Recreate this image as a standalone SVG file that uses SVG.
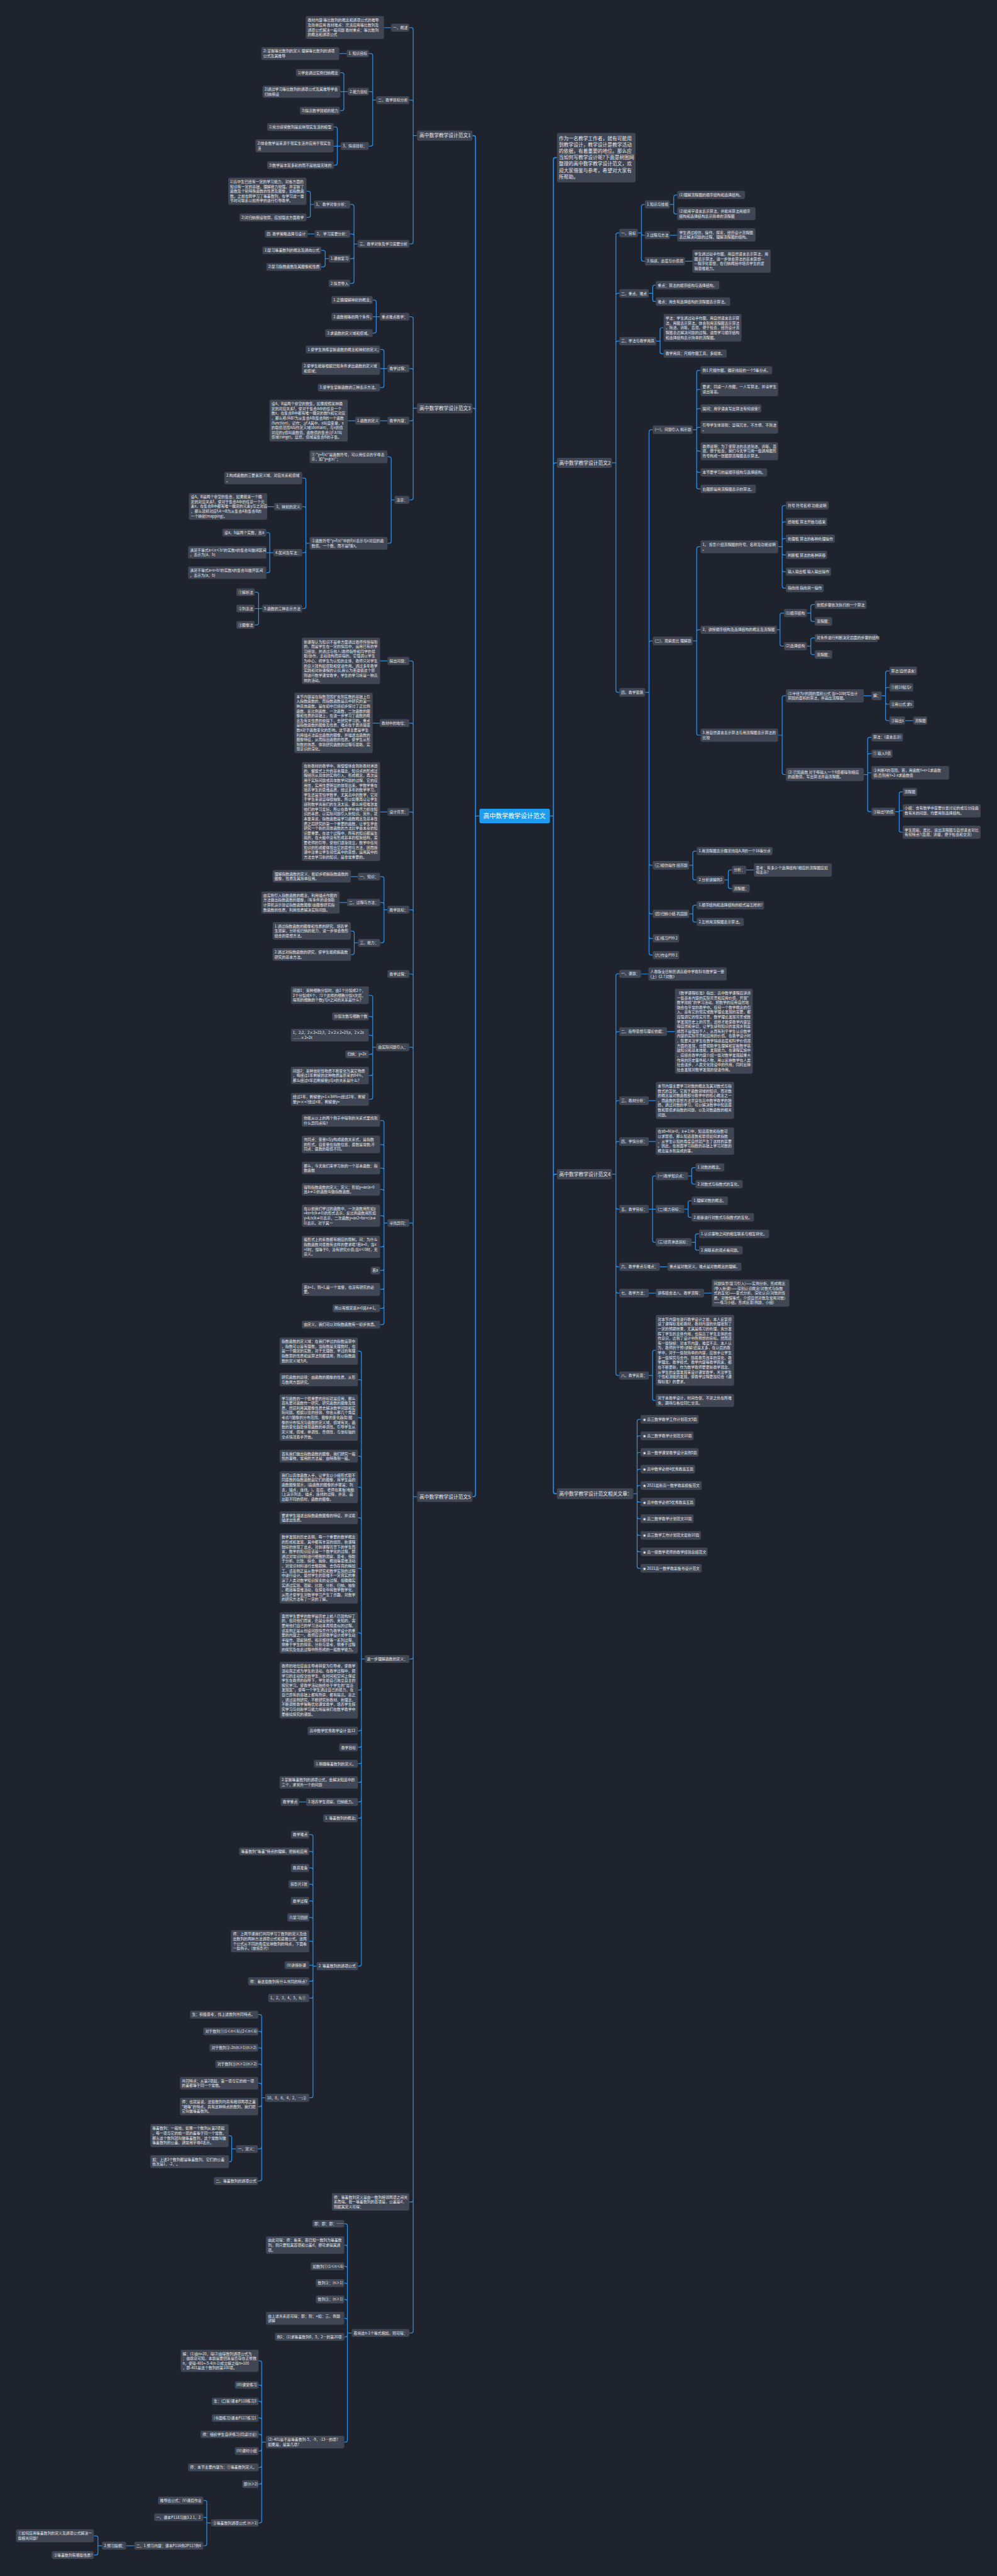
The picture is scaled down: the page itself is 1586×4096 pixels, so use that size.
<svg xmlns="http://www.w3.org/2000/svg" width="1586" height="4096" viewBox="0 0 1586 4096">
<style>
.nd rect{fill:#404654;rx:4px}
.nd .cn rect{fill:#1d9cf0}
text{font-family:"Noto Sans CJK SC","Noto Sans",sans-serif;font-size:9.5px;fill:#e6e8ec}
.L{font-size:12.5px}
.C{font-size:16px;fill:#ffffff}
.k path{fill:none;stroke:#2b8fe5;stroke-width:2}
.k .tr{stroke-width:2.6}
</style>
<rect width="1586" height="4096" style="fill:#1f232d"/>
<g transform="scale(0.6195)">
<g id="connectors" class="k">
<path class="tr" d="M1231 2094.5H1221M1221 2094.5V353Q1221 348 1216 348H1213M1221 2094.5V1053Q1221 1048 1216 1048H1213M1221 2094.5V3836.5Q1221 3841.5 1216 3841.5H1213"/>
<path class="tr" d="M1412 2094.5H1421M1421 2094.5V409.5Q1421 404.5 1426 404.5H1430M1421 2094.5V1193Q1421 1188 1426 1188H1430M1421 2094.5V3019Q1421 3014 1426 3014H1430M1421 2094.5V3829Q1421 3834 1426 3834H1430"/>
<path d="M1071 348H1061M1061 348V76Q1061 71 1056 71H1051M1061 348V262Q1061 257 1056 257H1051M1061 348V621Q1061 626 1056 626H1051"/>
<path d="M1004 71H986"/>
<path d="M966 257H957M957 257V142.5Q957 137.5 952 137.5H947M957 257V240Q957 235 952 235H947M957 257V370Q957 375 952 375H947"/>
<path d="M890 137.5H871"/>
<path d="M893 235H874M883 235V191.5Q883 186.5 878 186.5H873M883 235V279Q883 284 878 284H873"/>
<path d="M875 375H857M866 375V331Q866 326 861 326H857M866 375V419Q866 424 861 424H857"/>
<path d="M918 626H909M909 626V530Q909 525 904 525H899M909 626V605.5Q909 600.5 904 600.5H899M909 626V659Q909 664 904 664H899M909 626V722.5Q909 727.5 904 727.5H899"/>
<path d="M806 525H797M797 525V496Q797 491 792 491H787M797 525V553Q797 558 792 558H787"/>
<path d="M808 600.5H790"/>
<path d="M844 664H835M835 664V647.5Q835 642.5 830 642.5H825M835 664V680Q835 685 830 685H825"/>
<path d="M1071 1048H1061M1061 1048V818Q1061 813 1056 813H1051M1061 1048V951Q1061 946 1056 946H1051M1061 1048V1075Q1061 1080 1056 1080H1051M1061 1048V1278Q1061 1283 1056 1283H1051"/>
<path d="M975 813H957M966 813V775Q966 770 961 770H957M966 813V850Q966 855 961 855H957"/>
<path d="M995 946H976M986 946V902Q986 897 981 897H976M986 946V990Q986 995 981 995H976"/>
<path d="M995 1080H976M912 1080H893"/>
<path d="M1013 1283H1004.5M1004.5 1283V1177.5Q1004.5 1172.5 999.5 1172.5H995M1004.5 1283V1389.5Q1004.5 1394.5 999.5 1394.5H995"/>
<path d="M795 1394.5H785.5M785.5 1394.5V1232Q785.5 1227 780.5 1227H776M785.5 1394.5V1305.5Q785.5 1300.5 780.5 1300.5H776M785.5 1394.5V1413.5Q785.5 1418.5 780.5 1418.5H776M785.5 1394.5V1557Q785.5 1562 780.5 1562H776"/>
<path d="M704 1300.5H686"/>
<path d="M702 1418.5H684M692.7 1418.5V1372Q692.7 1367 687.7 1367H684M692.7 1418.5V1465Q692.7 1470 687.7 1470H684"/>
<path d="M673 1562H654M664 1562V1525Q664 1520 659 1520H654M664 1562V1599Q664 1604 659 1604H654"/>
<path d="M1071 3841.5H1061M1061 3841.5V1701.5Q1061 1696.5 1056 1696.5H1051M1061 3841.5V1861Q1061 1856 1056 1856H1051M1061 3841.5V2089Q1061 2084 1056 2084H1051M1061 3841.5V2340Q1061 2335 1056 2335H1051M1061 3841.5V2505Q1061 2500 1056 2500H1051M1061 3841.5V2693Q1061 2688 1056 2688H1051M1061 3841.5V3144Q1061 3139 1056 3139H1051M1061 3841.5V4253Q1061 4258 1056 4258H1051M1061 3841.5V5647Q1061 5652 1056 5652H1051M1061 3841.5V5983Q1061 5988 1056 5988H1051"/>
<path d="M995 1696.5H976M975 1856H957M995 2084H976"/>
<path d="M995 2335H986M986 2335V2255Q986 2250 981 2250H976M986 2335V2321.5Q986 2316.5 981 2316.5H976M986 2335V2415Q986 2420 981 2420H976"/>
<path d="M919 2250H901M891 2316.5H872"/>
<path d="M919 2420H909.6M909.6 2420V2394.5Q909.6 2389.5 904.6 2389.5H901M909.6 2420V2445Q909.6 2450 904.6 2450H901"/>
<path d="M966 2688H957M957 2688V2559.5Q957 2554.5 952 2554.5H947M957 2688V2614Q957 2609 952 2609H947M957 2688V2662Q957 2657 952 2657H947M957 2688V2701Q957 2706 952 2706H947M957 2688V2755.5Q957 2760.5 952 2760.5H947M957 2688V2816.5Q957 2821.5 952 2821.5H947"/>
<path d="M995 3139H986M986 3139V2881Q986 2876 981 2876H976M986 3139V2942.5Q986 2937.5 981 2937.5H976M986 3139V3003Q986 2998 981 2998H976M986 3139V3058Q986 3053 981 3053H976M986 3139V3125.5Q986 3120.5 981 3120.5H976M986 3139V3195.5Q986 3200.5 981 3200.5H976M986 3139V3256Q986 3261 981 3261H976M986 3139V3304.5Q986 3309.5 981 3309.5H976M986 3139V3353Q986 3358 981 3358H976M986 3139V3395Q986 3400 981 3400H976"/>
<path d="M937 4258H928M928 4258V3473Q928 3468 923 3468H919M928 4258V3546Q928 3541 923 3541H919M928 4258V3643.5Q928 3638.5 923 3638.5H919M928 4258V3742.5Q928 3737.5 923 3737.5H919M928 4258V3822Q928 3817 923 3817H919M928 4258V3900.5Q928 3895.5 923 3895.5H919M928 4258V4030.5Q928 4025.5 923 4025.5H919M928 4258V4196Q928 4191 923 4191H919M928 4258V4333Q928 4338 923 4338H919M928 4258V4437.5Q928 4442.5 923 4442.5H919M928 4258V4480Q928 4485 923 4485H919M928 4258V4522Q928 4527 923 4527H919M928 4258V4570Q928 4575 923 4575H919M928 4258V4620Q928 4625 923 4625H919M928 4258V4662Q928 4667 923 4667H919M928 4258V5041.5Q928 5046.5 923 5046.5H919"/>
<path d="M786 4625H768"/>
<path d="M813 5046.5H803.7M803.7 5046.5V4714Q803.7 4709 798.7 4709H794M803.7 5046.5V4757Q803.7 4752 798.7 4752H794M803.7 5046.5V4799.5Q803.7 4794.5 798.7 4794.5H794M803.7 5046.5V4841.5Q803.7 4836.5 798.7 4836.5H794M803.7 5046.5V4884Q803.7 4879 798.7 4879H794M803.7 5046.5V4926.5Q803.7 4921.5 798.7 4921.5H794M803.7 5046.5V4987.5Q803.7 4982.5 798.7 4982.5H794M803.7 5044H794M803.7 5046.5V5080.5Q803.7 5085.5 798.7 5085.5H794M803.7 5046.5V5123.5Q803.7 5128.5 798.7 5128.5H794M803.7 5046.5V5379.5Q803.7 5384.5 798.7 5384.5H794"/>
<path d="M681 5384.5H672M672 5384.5V5176Q672 5171 667 5171H663M672 5384.5V5219Q672 5214 667 5214H663M672 5384.5V5261Q672 5256 667 5256H663M672 5384.5V5303Q672 5298 667 5298H663M672 5384.5V5352Q672 5347 667 5347H663M672 5384.5V5402Q672 5407 667 5407H663M672 5384.5V5510.5Q672 5515.5 667 5515.5H662M672 5384.5V5593Q672 5598 667 5598H662"/>
<path d="M606 5515.5H595M595 5515.5V5486.5Q595 5481.5 590 5481.5H587M595 5515.5V5543.5Q595 5548.5 590 5548.5H588"/>
<path d="M903 5988H892M892 5988V5712.5Q892 5707.5 887 5707.5H884M892 5988V5767.5Q892 5762.5 887 5762.5H884M892 5988V5822Q892 5817 887 5817H884M892 5988V5865Q892 5860 887 5860H884M892 5988V5907Q892 5902 887 5902H884M892 5988V5955.5Q892 5950.5 887 5950.5H884M892 5988V5993Q892 5998 887 5998H884M892 5988V6263Q892 6268 887 6268H884"/>
<path d="M683 6268H672M672 6268V6064.5Q672 6059.5 667 6059.5H664M672 6268V6126.5Q672 6121.5 667 6121.5H664M672 6268V6168.5Q672 6163.5 667 6163.5H664M672 6268V6211Q672 6206 667 6206H664M672 6268V6253.5Q672 6248.5 667 6248.5H664M672 6268V6286Q672 6291 667 6291H664M672 6268V6328Q672 6333 667 6333H664M672 6268V6371Q672 6376 667 6376H664M672 6268V6470.5Q672 6475.5 667 6475.5H664"/>
<path d="M542 6475.5H531M531 6475.5V6423Q531 6418 526 6418H522M531 6475.5V6466Q531 6461 526 6461H522M531 6475.5V6529Q531 6534 526 6534H522"/>
<path d="M345 6534H324M262 6534H251.5M251.5 6534V6513.5Q251.5 6508.5 246.5 6508.5H241M251.5 6534V6553Q251.5 6558 246.5 6558H241"/>
<path d="M1571 1188H1581.6M1581.6 1188V603Q1581.6 598 1586.6 598H1590M1581.6 1188V758Q1581.6 753 1586.6 753H1590M1581.6 1188V880.5Q1581.6 875.5 1586.6 875.5H1590M1581.6 1188V1772Q1581.6 1777 1586.6 1777H1590"/>
<path d="M1638 598H1647M1647 598V530Q1647 525 1652 525H1656M1647 598V599Q1647 604 1652 604H1656M1647 598V665.5Q1647 670.5 1652 670.5H1656"/>
<path d="M1720 525H1730M1730 525V505.5Q1730 500.5 1735 500.5H1739M1730 525V544Q1730 549 1735 549H1739M1720 604H1739M1759 670.5H1778"/>
<path d="M1666 753H1676M1676 753V737Q1676 732 1681 732H1684M1676 753V769Q1676 774 1681 774H1684"/>
<path d="M1685 875.5H1695M1695 875.5V846Q1695 841 1700 841H1704M1695 875.5V903Q1695 908 1700 908H1704"/>
<path d="M1657 1777H1666.6M1666.6 1777V1108Q1666.6 1103 1671.6 1103H1676M1666.6 1777V1650Q1666.6 1645 1671.6 1645H1676M1666.6 1777V2216Q1666.6 2221 1671.6 2221H1676M1666.6 1777V2340.5Q1666.6 2345.5 1671.6 2345.5H1676M1666.6 1777V2404Q1666.6 2409 1671.6 2409H1676M1666.6 1777V2446.5Q1666.6 2451.5 1671.6 2451.5H1676"/>
<path d="M1779 1103H1789M1789 1103V955.5Q1789 950.5 1794 950.5H1799M1789 1103V1004.5Q1789 999.5 1794 999.5H1799M1789 1103V1053.5Q1789 1048.5 1794 1048.5H1799M1789 1103V1101.5Q1789 1096.5 1794 1096.5H1799M1789 1103V1153Q1789 1158 1794 1158H1799M1789 1103V1207.5Q1789 1212.5 1794 1212.5H1799M1789 1103V1250Q1789 1255 1794 1255H1799"/>
<path d="M1779 1645H1789M1789 1645V1408.5Q1789 1403.5 1794 1403.5H1799M1789 1645V1621.5Q1789 1616.5 1794 1616.5H1799M1789 1645V1882Q1789 1887 1794 1887H1799"/>
<path d="M1998 1403.5H2008.5M2008.5 1403.5V1302.5Q2008.5 1297.5 2013.5 1297.5H2018M2008.5 1403.5V1344.5Q2008.5 1339.5 2013.5 1339.5H2018M2008.5 1403.5V1387.5Q2008.5 1382.5 2013.5 1382.5H2018M2008.5 1403.5V1419.5Q2008.5 1424.5 2013.5 1424.5H2018M2008.5 1403.5V1462.5Q2008.5 1467.5 2013.5 1467.5H2018M2008.5 1403.5V1504.5Q2008.5 1509.5 2013.5 1509.5H2018"/>
<path d="M1995 1616.5H2003M2003 1616.5V1578.5Q2003 1573.5 2008 1573.5H2013M2003 1616.5V1653.5Q2003 1658.5 2008 1658.5H2013"/>
<path d="M2072 1573.5H2082M2082 1573.5V1557Q2082 1552 2087 1552H2092M2082 1573.5V1590Q2082 1595 2087 1595H2092"/>
<path d="M2072 1658.5H2082M2082 1658.5V1642.5Q2082 1637.5 2087 1637.5H2092M2082 1658.5V1675Q2082 1680 2087 1680H2092"/>
<path d="M1998 1887H2008.5M2008.5 1887V1791Q2008.5 1786 2013.5 1786H2018M2008.5 1887V1983Q2008.5 1988 2013.5 1988H2018"/>
<path d="M2218 1786H2238M2264 1786H2274M2274 1786V1727Q2274 1722 2279 1722H2284M2274 1786V1769.5Q2274 1764.5 2279 1764.5H2284M2274 1786V1802.5Q2274 1807.5 2279 1807.5H2284M2274 1786V1844.5Q2274 1849.5 2279 1849.5H2284M2324 1849.5H2345"/>
<path d="M2218 1988H2228M2228 1988V1897.5Q2228 1892.5 2233 1892.5H2238M2228 1988V1939.5Q2228 1934.5 2233 1934.5H2238M2228 1988V1983.5H2238M2228 1988V2078.5Q2228 2083.5 2233 2083.5H2238"/>
<path d="M2299 2083.5H2309M2309 2083.5V2037.5Q2309 2032.5 2314 2032.5H2318M2309 2083.5V2081H2318M2309 2083.5V2131Q2309 2136 2314 2136H2318"/>
<path d="M1770 2221H1779M1779 2221V2189.5Q1779 2184.5 1784 2184.5H1789M1779 2221V2253.5Q1779 2258.5 1784 2258.5H1789"/>
<path d="M1860 2258.5H1870M1870 2258.5V2238Q1870 2233 1875 2233H1880M1870 2258.5V2275.5Q1870 2280.5 1875 2280.5H1880M1916 2233H1936"/>
<path d="M1770 2345.5H1779M1779 2345.5V2328.5Q1779 2323.5 1784 2323.5H1789M1779 2345.5V2361.5Q1779 2366.5 1784 2366.5H1789"/>
<path d="M1571 3014H1581.6M1581.6 3014V2504.5Q1581.6 2499.5 1586.6 2499.5H1590M1581.6 3014V2653Q1581.6 2648 1586.6 2648H1590M1581.6 3014V2830Q1581.6 2825 1586.6 2825H1590M1581.6 3014V2935Q1581.6 2930 1586.6 2930H1590M1581.6 3014V3098.5Q1581.6 3103.5 1586.6 3103.5H1590M1581.6 3014V3246.5Q1581.6 3251.5 1586.6 3251.5H1590M1581.6 3014V3314Q1581.6 3319 1586.6 3319H1590M1581.6 3014V3525.5Q1581.6 3530.5 1586.6 3530.5H1590"/>
<path d="M1646 2500H1665M1713 2648H1733M1666 2825H1684M1666 2930H1684"/>
<path d="M1666 3103.5H1684M1675.6 3103.5V3023.5Q1675.6 3018.5 1680.6 3018.5H1684M1675.6 3103.5V3183.5Q1675.6 3188.5 1680.6 3188.5H1684"/>
<path d="M1767 3018.5H1776M1776 3018.5V3002Q1776 2997 1781 2997H1786M1776 3018.5V3034.5Q1776 3039.5 1781 3039.5H1786"/>
<path d="M1757 3103.5H1767M1767 3103.5V3087Q1767 3082 1772 3082H1776M1767 3103.5V3119.5Q1767 3124.5 1772 3124.5H1776"/>
<path d="M1776 3188.5H1785.7M1785.7 3188.5V3172Q1785.7 3167 1790.7 3167H1795M1785.7 3188.5V3204Q1785.7 3209 1790.7 3209H1795"/>
<path d="M1694 3251.5H1714M1666 3319H1684M1808 3319H1828"/>
<path d="M1666 3530.5H1675.6M1675.6 3530.5V3471Q1675.6 3466 1680.6 3466H1684M1675.6 3530.5V3589.5Q1675.6 3594.5 1680.6 3594.5H1684"/>
<path d="M1626 3834H1636M1636 3834V3648Q1636 3643 1641 3643H1645M1636 3834V3690.5Q1636 3685.5 1641 3685.5H1645M1636 3834V3733Q1636 3728 1641 3728H1645M1636 3834V3776Q1636 3771 1641 3771H1645M1636 3834V3818Q1636 3813 1641 3813H1645M1636 3834V3850.5Q1636 3855.5 1641 3855.5H1645M1636 3834V3893Q1636 3898 1641 3898H1645M1636 3834V3936Q1636 3941 1641 3941H1645M1636 3834V3978Q1636 3983 1641 3983H1645M1636 3834V4020.5Q1636 4025.5 1641 4025.5H1645"/>
</g>
<g class="nd">
<g id="center" class="cn"><rect x="1231" y="2076" width="181" height="37"/><text class="C" x="1241" y="2100">高中数学教学设计范文</text></g>
<g id="m1"><rect x="1071" y="335" width="142" height="26"/><text class="L" x="1077" y="352.4">高中数学教学设计范文1</text></g>
<g id="m3"><rect x="1071" y="1035" width="142" height="26"/><text class="L" x="1077" y="1052.4">高中数学教学设计范文3</text></g>
<g id="m5"><rect x="1071" y="3828" width="142" height="27"/><text class="L" x="1077" y="3845.9">高中数学教学设计范文5</text></g>
<g id="desc"><rect x="1430" y="341" width="202" height="127"/><text class="L" x="1435" y="359.7">作为一名教学工作者，就有可能用<tspan x="1435" dy="16.4">到教学设计，教学设计是教学活动</tspan><tspan x="1435" dy="16.4">的依据，有着重要的地位。那么应</tspan><tspan x="1435" dy="16.4">当如何写教学设计呢?下面是树图网</tspan><tspan x="1435" dy="16.4">整理的高中数学教学设计范文，欢</tspan><tspan x="1435" dy="16.4">迎大家借鉴与参考，希望对大家有</tspan><tspan x="1435" dy="16.4">所帮助。</tspan></text></g>
<g id="m2"><rect x="1430" y="1175" width="141" height="26"/><text class="L" x="1436" y="1192.4">高中数学教学设计范文2</text></g>
<g id="m4"><rect x="1430" y="3001" width="141" height="26"/><text class="L" x="1436" y="3018.4">高中数学教学设计范文4</text></g>
<g id="m6"><rect x="1430" y="3820" width="196" height="28"/><text class="L" x="1436" y="3838.4">高中数学教学设计范文相关文章：</text></g>

<g id="a1"><rect x="1004" y="61" width="47" height="20"/><text x="1009" y="74.3">一、概述</text></g>
<g id="a1a"><rect x="785" y="41" width="201" height="59"/><text x="790" y="55.4">教材内容:等比数列的概念和通项公式的推导<tspan x="790" dy="12.3">及简单应用 教材难点：灵活应用等比数列及</tspan><tspan x="790" dy="12.3">通项公式解决一般问题 教材重点：等比数列</tspan><tspan x="790" dy="12.3">的概念和通项公式</tspan></text></g>
<g id="a2"><rect x="966" y="247" width="85" height="20"/><text x="971" y="260.3">二、教学目标分析</text></g>
<g id="a2a"><rect x="890" y="128" width="57" height="19"/><text x="895" y="140.8">1. 知识目标</text></g>
<g id="a2a1"><rect x="671" y="121" width="200" height="33"/><text x="676" y="134.7">2) 掌握等比数列的定义 理解等比数列的通项<tspan x="676" dy="12.3">公式及其推导</tspan></text></g>
<g id="a2b"><rect x="893" y="225" width="54" height="20"/><text x="898" y="238.3">2.能力目标</text></g>
<g id="a2b1"><rect x="760" y="177" width="113" height="19"/><text x="765" y="189.8">1)学会通过实例归纳概念</text></g>
<g id="a2b2"><rect x="674" y="220" width="200" height="31"/><text x="679" y="232.7">2)通过学习等比数列的通项公式及其推导学会<tspan x="679" dy="12.3">归纳假设</tspan></text></g>
<g id="a2b3"><rect x="770" y="274" width="103" height="20"/><text x="775" y="287.3">3)提高数学建模的能力</text></g>
<g id="a2c"><rect x="875" y="365" width="72" height="20"/><text x="880" y="378.3">3、情感目标：</text></g>
<g id="a2c1"><rect x="686" y="316" width="171" height="20"/><text x="691" y="329.3">1)充分感受数列是反映现实生活的模型</text></g>
<g id="a2c2"><rect x="656" y="358" width="201" height="33"/><text x="661" y="371.7">2)体会数学是来源于现实生活并应用于现实生<tspan x="661" dy="12.3">活</tspan></text></g>
<g id="a2c3"><rect x="686" y="414" width="171" height="20"/><text x="691" y="427.3">3)数学是丰富多彩的而不是枯燥无味的</text></g>
<g id="a3"><rect x="918" y="616" width="133" height="20"/><text x="923" y="629.3">三、教学对象及学习需要分析</text></g>
<g id="a3a"><rect x="806" y="515" width="93" height="20"/><text x="811" y="528.3">1、 教学对象分析：</text></g>
<g id="a3a1"><rect x="586" y="456" width="201" height="70"/><text x="591" y="469.7">1)高中生已经有一定的学习能力，对各方面的<tspan x="591" dy="12.3">知识有一定的基础，理解能力较强。并掌握了</tspan><tspan x="591" dy="12.3">函数及个别特殊函数的性质及图像，如指数函</tspan><tspan x="591" dy="12.3">数。之前也刚学习了等差数列，在学习这一章</tspan><tspan x="591" dy="12.3">节时可联系以前所学的进行引导教学。</tspan></text></g>
<g id="a3a2"><rect x="615" y="548" width="172" height="20"/><text x="620" y="561.3">2)对归纳假设较弱，应加强这方面教学</text></g>
<g id="a3b"><rect x="808" y="591" width="91" height="19"/><text x="813" y="603.8">2、 学习需要分析：</text></g>
<g id="a3b1"><rect x="680" y="591" width="110" height="19"/><text x="685" y="603.8">四. 教学策略选择与设计</text></g>
<g id="a3c"><rect x="844" y="654" width="55" height="20"/><text x="849" y="667.3">1.课前复习</text></g>
<g id="a3c1"><rect x="674" y="633" width="151" height="19"/><text x="679" y="645.8">1)复习等差数列的概念及通向公式</text></g>
<g id="a3c2"><rect x="684" y="675" width="141" height="20"/><text x="689" y="688.3">2)复习指数函数及其图像和性质</text></g>
<g id="a3d"><rect x="844" y="718" width="55" height="19"/><text x="849" y="730.8">2.情景导入</text></g>

<g id="b1"><rect x="975" y="803" width="76" height="20"/><text x="980" y="816.3">重点难点教学：</text></g>
<g id="b1a"><rect x="851" y="760" width="106" height="20"/><text x="856" y="773.3">1.正确理解映射的概念；</text></g>
<g id="b1b"><rect x="851" y="803" width="106" height="20"/><text x="856" y="816.3">2.函数相等的两个条件；</text></g>
<g id="b1c"><rect x="835" y="845" width="122" height="20"/><text x="840" y="858.3">3.求函数的定义域和值域。</text></g>
<g id="b2"><rect x="995" y="936" width="56" height="20"/><text x="1000" y="949.3">教学过程：</text></g>
<g id="b2a"><rect x="785" y="887" width="191" height="20"/><text x="790" y="900.3">1.使学生熟练掌握函数的概念和映射的定义；</text></g>
<g id="b2b"><rect x="775" y="930" width="201" height="32"/><text x="780" y="943.2">2.使学生能够根据已知条件求出函数的定义域<tspan x="780" dy="12.3">和值域；</tspan></text></g>
<g id="b2c"><rect x="816" y="985" width="160" height="20"/><text x="821" y="998.3">3.使学生掌握函数的三种表示方法。</text></g>
<g id="b3"><rect x="995" y="1070" width="56" height="20"/><text x="1000" y="1083.3">教学内容：</text></g>
<g id="b3a"><rect x="912" y="1070" width="64" height="20"/><text x="917" y="1083.3">1.函数的定义</text></g>
<g id="b3a1"><rect x="692" y="1026" width="201" height="107"/><text x="697" y="1039.8">设A、B是两个非空的数集，如果按照某种确<tspan x="697" dy="12.3">定的对应关系f，使对于集合A中的任意一个</tspan><tspan x="697" dy="12.3">数x，在集合B中都有唯一确定的数fx和它对应</tspan><tspan x="697" dy="12.3">，那么称:fAB?为从集合A到集合B的一个函数</tspan><tspan x="697" dy="12.3">(function)，记作：,yf A其中，x叫自变量，x</tspan><tspan x="697" dy="12.3">的取值范围A叫作定义域(domain)，与x的值</tspan><tspan x="697" dy="12.3">对应的y值叫函数值，函数值的集合{|}f A?叫</tspan><tspan x="697" dy="12.3">值域(range)。显然，值域是集合B的子集。</tspan></text></g>
<g id="b4"><rect x="1013" y="1273" width="38" height="20"/><text x="1018" y="1286.3">注意：</text></g>
<g id="b4a"><rect x="795" y="1156" width="200" height="33"/><text x="800" y="1169.7">① "y=f(x)"是函数符号，可以用任意的字母表<tspan x="800" dy="12.3">示，如"y=g(x)"；</tspan></text></g>
<g id="b4b"><rect x="795" y="1378" width="200" height="33"/><text x="800" y="1391.7">②函数符号"y=f(x)"中的f(x)表示与x对应的函<tspan x="800" dy="12.3">数值，一个数，而不是f乘x。</tspan></text></g>
<g id="b4b1"><rect x="576" y="1211" width="200" height="32"/><text x="581" y="1224.2">2.构成函数的三要素定义域、对应关系和值域<tspan x="581" dy="12.3">。</tspan></text></g>
<g id="b4b2"><rect x="704" y="1291" width="72" height="19"/><text x="709" y="1303.8">3、映射的定义</text></g>
<g id="b4b2a"><rect x="485" y="1266" width="201" height="68"/><text x="490" y="1278.7">设A、B是两个非空的集合，如果按某一个确<tspan x="490" dy="12.3">定的对应关系f，使对于集合A中的任意一个元</tspan><tspan x="490" dy="12.3">素x，在集合B中都有唯一确定的元素y与之对应</tspan><tspan x="490" dy="12.3">，那么就称对应f:A→B为从集合A到集合B的</tspan><tspan x="490" dy="12.3">一个映射(mapping)。</tspan></text></g>
<g id="b4b3"><rect x="702" y="1409" width="74" height="19"/><text x="707" y="1421.8">4.区间及写法：</text></g>
<g id="b4b3a"><rect x="571" y="1357" width="113" height="20"/><text x="576" y="1370.3">设a、b是两个实数，且a</text></g>
<g id="b4b3b"><rect x="483" y="1402" width="201" height="32"/><text x="488" y="1415.2">满足不等式a≤x≤b?的实数x的集合叫做闭区间<tspan x="488" dy="12.3">，表示为[a，b]</tspan></text></g>
<g id="b4b3c"><rect x="483" y="1454" width="201" height="32"/><text x="488" y="1467.2">满足不等式a&lt;x&lt;b?的实数x的集合叫做开区间<tspan x="488" dy="12.3">，表示为(a，b)</tspan></text></g>
<g id="b4b4"><rect x="673" y="1552" width="103" height="20"/><text x="678" y="1565.3">5.函数的三种表示方法</text></g>
<g id="b4b4a"><rect x="607" y="1510" width="47" height="20"/><text x="612" y="1523.3">①解析法</text></g>
<g id="b4b4b"><rect x="607" y="1552" width="47" height="20"/><text x="612" y="1565.3">②列表法</text></g>
<g id="b4b4c"><rect x="607" y="1594" width="47" height="20"/><text x="612" y="1607.3">③图像法</text></g>

<g id="c1"><rect x="995" y="1686" width="56" height="21"/><text x="1000" y="1699.8">提出问题：</text></g>
<g id="c1a"><rect x="775" y="1637" width="201" height="119"/><text x="780" y="1650.6">新课程认为知识不是单方面通过教师传授得到<tspan x="780" dy="12.3">的，而是学生在一定的情境中，运用已有的学</tspan><tspan x="780" dy="12.3">习经验，并通过与他人(教师指导和同学的帮</tspan><tspan x="780" dy="12.3">助)协作，主动建构而获得的。它强调以学生</tspan><tspan x="780" dy="12.3">为中心，视学生为认知的主体，教师只对学生</tspan><tspan x="780" dy="12.3">的意义建构起帮助和促进作用。通过多年教学</tspan><tspan x="780" dy="12.3">实践和对新课程的认识,我认为若遵循这个原</tspan><tspan x="780" dy="12.3">则进行数学课堂教学，学生的学习将是一种高</tspan><tspan x="780" dy="12.3">效的活动。</tspan></text></g>
<g id="c2"><rect x="975" y="1846" width="76" height="20"/><text x="980" y="1859.3">教材中的地位：</text></g>
<g id="c2a"><rect x="756" y="1778" width="201" height="155"/><text x="761" y="1791.2">本节内容是在指数范围扩充到实数的基础上引<tspan x="761" dy="12.3">入指数函数的，而指数函数是高中研究的第一</tspan><tspan x="761" dy="12.3">种具体函数。是在初中已经初步探讨了正比例</tspan><tspan x="761" dy="12.3">函数，反比例函数，一次函数，二次函数的图</tspan><tspan x="761" dy="12.3">像和性质的基础上，在进一步学习了函数的概</tspan><tspan x="761" dy="12.3">念及有关性质的前提下，去研究学习的。重点</tspan><tspan x="761" dy="12.3">是指数函数的图像及性质，难点在于弄清楚底</tspan><tspan x="761" dy="12.3">数a对于函数变化的影响。这节课主要是学生</tspan><tspan x="761" dy="12.3">利用描点法画出函数的图像，并描述出函数的</tspan><tspan x="761" dy="12.3">图像特征，从而指出函数的性质。使学生从形</tspan><tspan x="761" dy="12.3">到数的熟悉，体验研究函数的过程与思路，实</tspan><tspan x="761" dy="12.3">现意识的深化。</tspan></text></g>
<g id="c3"><rect x="995" y="2074" width="56" height="20"/><text x="1000" y="2087.3">设计背景：</text></g>
<g id="c3a"><rect x="775" y="1956" width="201" height="254"/><text x="780" y="1969.5">在新教材的教学中，我慢慢体会到新教材渗透<tspan x="780" dy="12.3">的、螺旋式上升的基本理念，知识点的形成过</tspan><tspan x="780" dy="12.3">程经历从具体的实例引入，形成概念，再次运</tspan><tspan x="780" dy="12.3">用于实际问题或具体数学问题的过程，它的应</tspan><tspan x="780" dy="12.3">用性，实用性更明显的体现出来。学数学重在</tspan><tspan x="780" dy="12.3">培养学生的思维品质，经过多年的数学学习，</tspan><tspan x="780" dy="12.3">学生还是害怕学数学，尤其高中的数学，它对</tspan><tspan x="780" dy="12.3">于学生来说显得很抽象。所以如果再让让学生</tspan><tspan x="780" dy="12.3">感到数学离我们的生活太远，那么将很难激发</tspan><tspan x="780" dy="12.3">他们的学习爱好。所以在教学中我尽力抓住知</tspan><tspan x="780" dy="12.3">识的本质，以实际问题引入新知识。另外，就</tspan><tspan x="780" dy="12.3">本章来说，指数函数是学习函数概念及基本性</tspan><tspan x="780" dy="12.3">质之后研究的第一个重要的函数，让学生学会</tspan><tspan x="780" dy="12.3">研究一个新的具体函数的方法比学会本身的知</tspan><tspan x="780" dy="12.3">识更重要。在这个过程中，所有的知识都是生</tspan><tspan x="780" dy="12.3">疏的，在大脑中没有形成基本的框架结构，需</tspan><tspan x="780" dy="12.3">要老师的引导，使他们逐渐建立。数学中任何</tspan><tspan x="780" dy="12.3">知识的形成都体现出它的思想与方法，因而授</tspan><tspan x="780" dy="12.3">课中注重让学生领悟其中的思想，运用其中的</tspan><tspan x="780" dy="12.3">方法去学习新的知识，是非常重要的。</tspan></text></g>
<g id="c4"><rect x="995" y="2325" width="56" height="20"/><text x="1000" y="2338.3">教学目标：</text></g>
<g id="c4a"><rect x="919" y="2240" width="57" height="20"/><text x="924" y="2253.3">一、知识：</text></g>
<g id="c4a1"><rect x="700" y="2233" width="201" height="32"/><text x="705" y="2246.2">理解指数函数的定义，能初步把握指数函数的<tspan x="705" dy="12.3">图像，性质及其简单应用。</tspan></text></g>
<g id="c4b"><rect x="891" y="2307" width="85" height="19"/><text x="896" y="2319.8">二、过程与方法：</text></g>
<g id="c4b1"><rect x="671" y="2288" width="201" height="57"/><text x="676" y="2301.4">由实例引入指数函数的概念，利用描点作图的<tspan x="676" dy="12.3">方法做出指数函数的图像，(有条件的话借助</tspan><tspan x="676" dy="12.3">计算机演示验证指数函数图像)由图像研究指</tspan><tspan x="676" dy="12.3">数函数的性质，利用性质解决实际问题。</tspan></text></g>
<g id="c4c"><rect x="919" y="2410" width="57" height="20"/><text x="924" y="2423.3">三、能力：</text></g>
<g id="c4c1"><rect x="700" y="2367" width="201" height="45"/><text x="705" y="2380.5">1.通过指数函数的图像和性质的研究，培养学<tspan x="705" dy="12.3">生观察，分析和归纳的能力，进一步体会数形</tspan><tspan x="705" dy="12.3">结合的思想方法。</tspan></text></g>
<g id="c4c2"><rect x="700" y="2434" width="201" height="32"/><text x="705" y="2447.2">2.通过对指数函数的研究，使学生能把握函数<tspan x="705" dy="12.3">研究的基本方法。</tspan></text></g>
<g id="c5"><rect x="995" y="2490" width="56" height="20"/><text x="1000" y="2503.3">教学过程：</text></g>
<g id="c6"><rect x="966" y="2678" width="85" height="20"/><text x="971" y="2691.3">由实际问题引入：</text></g>
<g id="c6a"><rect x="747" y="2532" width="200" height="45"/><text x="752" y="2545.5">问题1：某种细胞分裂时，由1个分裂成2个，<tspan x="752" dy="12.3">2个分裂成4个，?1个这样的细胞分裂x次后，</tspan><tspan x="752" dy="12.3">得到的细胞的个数y与x之间的关系是什么？</tspan></text></g>
<g id="c6b"><rect x="853" y="2599" width="94" height="20"/><text x="858" y="2612.3">分裂次数与细胞个数</text></g>
<g id="c6c"><rect x="747" y="2641" width="200" height="32"/><text x="752" y="2654.2">1，2;2，2×2=22;3，2×2×2=23;x，2×2x<tspan x="752" dy="12.3">……×2=2x</tspan></text></g>
<g id="c6d"><rect x="887" y="2696" width="60" height="20"/><text x="892" y="2709.3">归纳：y=2x</text></g>
<g id="c6e"><rect x="747" y="2738" width="200" height="45"/><text x="752" y="2751.5">问题2：某种放射性物质不断变化为其它物质<tspan x="752" dy="12.3">，每经过1年剩留的这种物质是原来的84%，</tspan><tspan x="752" dy="12.3">那么经过x年后剩留量y与x的关系是什么？</tspan></text></g>
<g id="c6f"><rect x="747" y="2805" width="200" height="33"/><text x="752" y="2818.7">经过1年，剩留量y=1×84%=;经过2年，剩留<tspan x="752" dy="12.3">量y=×=?经过x年，剩留量y=</tspan></text></g>
<g id="c7"><rect x="995" y="3129" width="56" height="20"/><text x="1000" y="3142.3">寻找异同：</text></g>
<g id="c7a"><rect x="775" y="2860" width="201" height="32"/><text x="780" y="2873.2">你能从以上的两个例子中得到的关系式里找到<tspan x="780" dy="12.3">什么异同点吗？</tspan></text></g>
<g id="c7b"><rect x="775" y="2915" width="201" height="45"/><text x="780" y="2928.5">共同点：变量x与y构成函数关系式，是指数<tspan x="780" dy="12.3">的形式，自变量在指数位置，底数是常数;不</tspan><tspan x="780" dy="12.3">同点：底数的取值不同。</tspan></text></g>
<g id="c7c"><rect x="775" y="2982" width="201" height="32"/><text x="780" y="2995.2">那么，今天我们来学习新的一个基本函数：指<tspan x="780" dy="12.3">数函数</tspan></text></g>
<g id="c7d"><rect x="775" y="3037" width="201" height="32"/><text x="780" y="3050.2">得到指数函数的定义：定义：形如y=ax(a&gt;0<tspan x="780" dy="12.3">且a≠1)的函数叫做指数函数。</tspan></text></g>
<g id="c7e"><rect x="775" y="3092" width="201" height="57"/><text x="780" y="3105.4">在以前我们学过的函数中，一次函数用形如y<tspan x="780" dy="12.3">=kx+b(k≠0)的形式表示，反比例函数用形如</tspan><tspan x="780" dy="12.3">y=k/x(k≠0)表示，二次函数y=ax2+bx+c(a≠</tspan><tspan x="780" dy="12.3">0)表示。对于其一</tspan></text></g>
<g id="c7f"><rect x="775" y="3172" width="201" height="57"/><text x="780" y="3185.4">般形式上的系数都有相应的限制。问：为什么<tspan x="780" dy="12.3">指数函数对底数有这样的要求呢?若a=0，当x</tspan><tspan x="780" dy="12.3">&gt;0时，恒等于0，没有研究价值;当x≤0时，无</tspan><tspan x="780" dy="12.3">意义。</tspan></text></g>
<g id="c7g"><rect x="952" y="3251" width="24" height="20"/><text x="956" y="3264.3">若a</text></g>
<g id="c7h"><rect x="775" y="3293" width="201" height="33"/><text x="780" y="3306.7">若a=1，则=1,是一个常量，也没有研究的必<tspan x="780" dy="12.3">要。</tspan></text></g>
<g id="c7i"><rect x="854" y="3348" width="122" height="20"/><text x="859" y="3361.3">所以有规定且a&gt;0且a≠1。</text></g>
<g id="c7j"><rect x="775" y="3390" width="201" height="20"/><text x="780" y="3403.3">由定义，我们可以对指数函数有一初步熟悉。</text></g>
<g id="c8"><rect x="937" y="4248" width="114" height="20"/><text x="942" y="4261.3">进一步理解函数的定义：</text></g>
<g id="c8a"><rect x="718" y="3433" width="201" height="70"/><text x="723" y="3446.7">指数函数的定义域：在我们学过的指数运算中<tspan x="723" dy="12.3">，指数可以是有理数，当指数是无理数时，也</tspan><tspan x="723" dy="12.3">是一个确定的实数，对于无理数，学过的有理</tspan><tspan x="723" dy="12.3">指数幂的性质和运算法则都适用，所以指数函</tspan><tspan x="723" dy="12.3">数的定义域为R。</tspan></text></g>
<g id="c8b"><rect x="718" y="3524" width="201" height="34"/><text x="723" y="3538.2">研究函数的途径：由函数的图像的性质，从形<tspan x="723" dy="12.3">与数两方面研究。</tspan></text></g>
<g id="c8c"><rect x="718" y="3579" width="201" height="119"/><text x="723" y="3592.6">学习函数的一个很重要的目标就是应用，那么<tspan x="723" dy="12.3">首先要对函数作一研究，研究函数的图像及性</tspan><tspan x="723" dy="12.3">质，然后利用其图像性质去解决数学问题和实</tspan><tspan x="723" dy="12.3">际问题。根据以往的经验，你会从那几个角度</tspan><tspan x="723" dy="12.3">考虑?(图像的分布范围，图像的变化趋势)图</tspan><tspan x="723" dy="12.3">像的分布情况与函数的定义域，值域有关，函</tspan><tspan x="723" dy="12.3">数的变化趋势体现函数的单调性。引导学生从</tspan><tspan x="723" dy="12.3">定义域，值域，单调性，奇偶性，与坐标轴的</tspan><tspan x="723" dy="12.3">交点情况着手开始。</tspan></text></g>
<g id="c8d"><rect x="718" y="3721" width="201" height="33"/><text x="723" y="3734.7">首先我们做出指数函数的图像，我们研究一般<tspan x="723" dy="12.3">性的事物，常用的方法是：由特殊到一般。</tspan></text></g>
<g id="c8e"><rect x="718" y="3776" width="201" height="82"/><text x="723" y="3789.6">我们以具体函数入手，让学生以小组形式取不<tspan x="723" dy="12.3">同底数的指数函数画它们的图像，将学生画的</tspan><tspan x="723" dy="12.3">函数图像展示，(画函数的图像的步骤是：列</tspan><tspan x="723" dy="12.3">表，描点，连线。)。最后，老师在黑板(电脑</tspan><tspan x="723" dy="12.3">)上演示列表，描点，连线的过程，并且，画</tspan><tspan x="723" dy="12.3">出取不同的值时，函数的图像。</tspan></text></g>
<g id="c8f"><rect x="718" y="3879" width="201" height="33"/><text x="723" y="3892.7">要求学生描述出指数函数图像的特征，并试着<tspan x="723" dy="12.3">描述出性质。</tspan></text></g>
<g id="c8g"><rect x="718" y="3935" width="201" height="181"/><text x="723" y="3948.9">数学发展的历史表明，每一个重要的数学概念<tspan x="723" dy="12.3">的形成和发展，其中都有丰富的经历，新课程</tspan><tspan x="723" dy="12.3">较好的体现了这点。对新课程背景下的学生而</tspan><tspan x="723" dy="12.3">言，数学的知识应该是一个数学化的过程，即</tspan><tspan x="723" dy="12.3">通过对常识材料进行细致的观察、思考，借助</tspan><tspan x="723" dy="12.3">于分析、比较、综合、抽象、概括等思维活动</tspan><tspan x="723" dy="12.3">，对常识材料进行去粗取精、去伪存真的精加</tspan><tspan x="723" dy="12.3">工。该案例正是从数学研究和数学实验的过程</tspan><tspan x="723" dy="12.3">中进行设计。虽然学生的思维不一定真实的重</tspan><tspan x="723" dy="12.3">演了人类对数学知识探索的全过程，但确确实</tspan><tspan x="723" dy="12.3">实通过实验、观察、比较、分析、归纳、抽象</tspan><tspan x="723" dy="12.3">、概括等思维活动，在探索中将数学数学化，</tspan><tspan x="723" dy="12.3">从而才使学生对数学学习产生了乐趣，对数学</tspan><tspan x="723" dy="12.3">的研究方法有了一定的了解。</tspan></text></g>
<g id="c8h"><rect x="718" y="4138" width="201" height="106"/><text x="723" y="4151.3">虽然学生要学的数学是历史上前人已建构好了<tspan x="723" dy="12.3">的，但对他们而言，仍是全新的、未知的，需</tspan><tspan x="723" dy="12.3">要用他们自己的学习活动来再现类似的过程。</tspan><tspan x="723" dy="12.3">该案例正是从创设问题情景作为教学设计的重</tspan><tspan x="723" dy="12.3">要的内容之一。教师应该把教学设计成学生动</tspan><tspan x="723" dy="12.3">手操作、观察猜想、揭示规律等一系列过程，</tspan><tspan x="723" dy="12.3">侧重于学生的探索、分析与思考，侧重于过程</tspan><tspan x="723" dy="12.3">的探究及在此过程中所形成的一般数学能力。</tspan></text></g>
<g id="c8i"><rect x="718" y="4265" width="201" height="146"/><text x="723" y="4279.8">教师的地位应由主导者转变为引导者，使教学<tspan x="723" dy="12.3">活动真正成为学生的活动。在教学过程中，把</tspan><tspan x="723" dy="12.3">学习的主动权交给学生，在时间和空间上保证</tspan><tspan x="723" dy="12.3">学生在教师的指导下，学生能自己独立自主的</tspan><tspan x="723" dy="12.3">探究学习。使教学活动始终处于学生的"最近</tspan><tspan x="723" dy="12.3">发展区"，使每一个学生通过自己的努力，在</tspan><tspan x="723" dy="12.3">自己原有的基础上都有所获，都有提高。总之</tspan><tspan x="723" dy="12.3">，通过案例研究，不断研究新教材、新理念，</tspan><tspan x="723" dy="12.3">不断调整教学策略优化课堂教学，培养学生探</tspan><tspan x="723" dy="12.3">究学习与创新学习能力将是我们在数学教学中</tspan><tspan x="723" dy="12.3">要继续探究的课题。</tspan></text></g>
<g id="c8j"><rect x="790" y="4432" width="129" height="21"/><text x="795" y="4445.8">高中数学优秀教学设计 篇12</text></g>
<g id="c8k"><rect x="871" y="4475" width="48" height="20"/><text x="876" y="4488.3">教学目标</text></g>
<g id="c8l"><rect x="806" y="4517" width="113" height="20"/><text x="811" y="4530.3">1.明确等差数列的定义。</text></g>
<g id="c8m"><rect x="718" y="4559" width="201" height="32"/><text x="723" y="4572.2">2.掌握等差数列的通项公式，会解决知道中的<tspan x="723" dy="12.3">三个，求另外一个的问题</tspan></text></g>
<g id="c8n"><rect x="786" y="4615" width="133" height="20"/><text x="791" y="4628.3">3.培养学生观察、归纳能力。</text></g>
<g id="c8n1"><rect x="721" y="4615" width="47" height="20"/><text x="726" y="4628.3">教学重点</text></g>
<g id="c8o"><rect x="830" y="4657" width="89" height="20"/><text x="835" y="4670.3">1. 等差数列的概念;</text></g>
<g id="c8p"><rect x="813" y="5036" width="106" height="21"/><text x="818" y="5049.8">2. 等差数列的通项公式</text></g>
<g id="p1"><rect x="747" y="4699" width="47" height="20"/><text x="752" y="4712.3">教学难点</text></g>
<g id="p2"><rect x="614" y="4742" width="180" height="20"/><text x="619" y="4755.3">等差数列"等差"特点的理解、把握和应用</text></g>
<g id="p3"><rect x="747" y="4784" width="47" height="21"/><text x="752" y="4797.8">教具准备</text></g>
<g id="p4"><rect x="741" y="4826" width="53" height="21"/><text x="746" y="4839.8">投影片1张</text></g>
<g id="p5"><rect x="747" y="4869" width="47" height="20"/><text x="752" y="4882.3">教学过程</text></g>
<g id="p6"><rect x="738" y="4911" width="56" height="21"/><text x="743" y="4924.8">(I)复习回顾</text></g>
<g id="p7"><rect x="593" y="4954" width="201" height="57"/><text x="598" y="4967.4">师：上两节课我们共同学习了数列的定义及给<tspan x="598" dy="12.3">出数列的两种方法通项公式和递推公式。这两</tspan><tspan x="598" dy="12.3">个公式从不同的角度反映数列的特点，下面看</tspan><tspan x="598" dy="12.3">一些例子。(放投影片)</tspan></text></g>
<g id="p8"><rect x="731" y="5034" width="63" height="20"/><text x="736" y="5047.3">(II)讲授新课</text></g>
<g id="p9"><rect x="637" y="5075" width="157" height="21"/><text x="642" y="5088.8">师：看这些数列有什么共同的特点?</text></g>
<g id="p10"><rect x="689" y="5118" width="105" height="21"/><text x="694" y="5131.8">1，2，3，4，5，6;①</text></g>
<g id="p11"><rect x="681" y="5374" width="113" height="21"/><text x="686" y="5387.8">10，8，6，4，2，…;②</text></g>
<g id="q1"><rect x="488" y="5161" width="175" height="20"/><text x="493" y="5174.3">生：积极思考，找上述数列共同特点。</text></g>
<g id="q2"><rect x="522" y="5204" width="141" height="20"/><text x="527" y="5217.3">对于数列①(1≤n≤6);(2≤n≤6)</text></g>
<g id="q3"><rect x="538" y="5246" width="125" height="20"/><text x="543" y="5259.3">对于数列②-2n(n≥1)(n≥2)</text></g>
<g id="q4"><rect x="553" y="5288" width="110" height="20"/><text x="558" y="5301.3">对于数列③(n≥1)(n≥2)</text></g>
<g id="q5"><rect x="462" y="5331" width="201" height="32"/><text x="467" y="5344.2">共同特点：从第2项起，第一项与它的前一项<tspan x="467" dy="12.3">的差都等于同一个常数。</tspan></text></g>
<g id="q6"><rect x="462" y="5384.5" width="201" height="45"/><text x="467" y="5398">师：也就是说，这些数列均具有相邻两项之差<tspan x="467" dy="12.3">"相等"的特点。具有这种特点的数列，我们把</tspan><tspan x="467" dy="12.3">它叫做等差数列。</tspan></text></g>
<g id="q7"><rect x="386" y="5452" width="201" height="59"/><text x="391" y="5466.4">等差数列：一般地，如果一个数列从第2项起<tspan x="391" dy="12.3">，每一项与它的前一项的差等于同一个常数，</tspan><tspan x="391" dy="12.3">那么这个数列就叫做等差数列，这个常数叫做</tspan><tspan x="391" dy="12.3">等差数列的公差，通常用字母d表示。</tspan></text></g>
<g id="q8"><rect x="606" y="5506" width="56" height="20"/><text x="611" y="5519.3">一、定义：</text></g>
<g id="q9"><rect x="386" y="5532" width="202" height="33"/><text x="391" y="5545.7">如：上述3个数列都是等差数列，它们的公差<tspan x="391" dy="12.3">依次是1，-2，。</tspan></text></g>
<g id="q10"><rect x="549" y="5588" width="113" height="20"/><text x="554" y="5601.3">二、等差数列的通项公式</text></g>
<g id="c9"><rect x="852" y="5629" width="199" height="45"/><text x="857" y="5642.5">师：等差数列定义是由一数列相邻两项之间关<tspan x="857" dy="12.3">系而得。若一等差数列的首项是，公差是d，</tspan><tspan x="857" dy="12.3">则据其定义可得：</tspan></text></g>
<g id="c10"><rect x="903" y="5978" width="148" height="20"/><text x="908" y="5991.3">若将这n-1个等式相加，则可得：</text></g>
<g id="r1"><rect x="802" y="5698" width="82" height="19"/><text x="807" y="5710.8">即：即：即：……</text></g>
<g id="r2"><rect x="683" y="5740" width="201" height="45"/><text x="688" y="5753.5">由此可得：师：看来，若已知一数列为等差数<tspan x="688" dy="12.3">列，则只要知其首项和公差d，便可求得其通</tspan><tspan x="688" dy="12.3">项。</tspan></text></g>
<g id="r3"><rect x="798" y="5807" width="86" height="20"/><text x="803" y="5820.3">如数列①(1≤n≤6)</text></g>
<g id="r4"><rect x="811" y="5850" width="73" height="20"/><text x="816" y="5863.3">数列②：(n≥1)</text></g>
<g id="r5"><rect x="811" y="5892" width="73" height="20"/><text x="816" y="5905.3">数列③：(n≥1)</text></g>
<g id="r6"><rect x="683" y="5934" width="201" height="33"/><text x="688" y="5947.7">由上述关系还可得：即：则：=如：三、例题<tspan x="688" dy="12.3">讲解</tspan></text></g>
<g id="r7"><rect x="706" y="5988" width="178" height="20"/><text x="711" y="6001.3">例1：(1)求等差数列8，5，2…的第20项</text></g>
<g id="r8"><rect x="683" y="6252" width="201" height="32"/><text x="688" y="6265.2">(2)-401是不是等差数列-5，-9，-13…的项?<tspan x="688" dy="12.3">如果是，是第几项?</tspan></text></g>
<g id="s1"><rect x="464" y="6031" width="200" height="57"/><text x="469" y="6044.4">解：(1)由n=20，得(2)由得数列通项公式为<tspan x="469" dy="12.3">：由题意可知，本题是要回答是否存在正整数</tspan><tspan x="469" dy="12.3">n，使得-401=-5-4(n-1)成立解之得n=100</tspan><tspan x="469" dy="12.3">，即-401是这个数列的第100项。</tspan></text></g>
<g id="s2"><rect x="603" y="6112" width="61" height="19"/><text x="607" y="6124.8">(III)课堂练习</text></g>
<g id="s3"><rect x="544" y="6154" width="120" height="19"/><text x="549" y="6166.8">生：(口答)课本P118练习3</text></g>
<g id="s4"><rect x="544" y="6197" width="120" height="19"/><text x="549" y="6209.8">(书面练习)课本P117练习1</text></g>
<g id="s5"><rect x="515" y="6239" width="149" height="19"/><text x="520" y="6251.8">师：组织学生自评练习(同桌讨论)</text></g>
<g id="s6"><rect x="603" y="6281" width="61" height="20"/><text x="607" y="6294.3">(IV)课时小结</text></g>
<g id="s7"><rect x="483" y="6323" width="181" height="20"/><text x="488" y="6336.3">师：本节主要内容为：①等差数列定义。</text></g>
<g id="s8"><rect x="622" y="6366" width="42" height="20"/><text x="626" y="6379.3">即(n≥2)</text></g>
<g id="s9"><rect x="542" y="6466" width="122" height="19"/><text x="547" y="6478.8">②等差数列通项公式 (n≥1)</text></g>
<g id="t1"><rect x="406" y="6408" width="116" height="20"/><text x="411" y="6421.3">推导出公式：(V)课后作业</text></g>
<g id="t2"><rect x="396" y="6451" width="126" height="20"/><text x="401" y="6464.3">一、课本P118习题3.2 1，2</text></g>
<g id="t3"><rect x="345" y="6524" width="177" height="20"/><text x="350" y="6537.3">二、1.预习内容：课本P116例2P117例4</text></g>
<g id="t3a"><rect x="262" y="6524" width="62" height="20"/><text x="267" y="6537.3">2.预习提纲：</text></g>
<g id="u1"><rect x="41" y="6492" width="200" height="33"/><text x="46" y="6505.7">①如何应用等差数列的定义及通项公式解决一<tspan x="46" dy="12.3">些相关问题?</tspan></text></g>
<g id="u2"><rect x="133" y="6548" width="108" height="20"/><text x="138" y="6561.3">②等差数列有哪些性质?</text></g>

<g id="d1"><rect x="1590" y="587" width="48" height="22"/><text x="1595" y="601.3">一、目标</text></g>
<g id="d1a"><rect x="1656" y="514" width="64" height="21"/><text x="1661" y="527.8">1.知识与技能</text></g>
<g id="d1a1"><rect x="1739" y="490" width="174" height="21"/><text x="1744" y="503.8">(1)理解流程图的顺序结构和选择结构。</text></g>
<g id="d1a2"><rect x="1739" y="532" width="201" height="33"/><text x="1744" y="545.7">(2)能用字语言表示算法，并能将算法用顺序<tspan x="1744" dy="12.3">结构和选择结构表示简单的流程图</tspan></text></g>
<g id="d1b"><rect x="1656" y="593" width="64" height="21"/><text x="1661" y="606.8">2.过程与方法</text></g>
<g id="d1b1"><rect x="1739" y="586" width="201" height="34"/><text x="1744" y="600.2">学生通过模仿、操作、探索，经历设计流程图<tspan x="1744" dy="12.3">表达解决问题的过程，理解流程图的结构。</tspan></text></g>
<g id="d1c"><rect x="1656" y="660" width="103" height="21"/><text x="1661" y="673.8">3.情感、态度与价值观</text></g>
<g id="d1c1"><rect x="1778" y="641" width="201" height="59"/><text x="1783" y="655.4">学生通过动手作图，用自然语言表示算法，用<tspan x="1783" dy="12.3">图表示算法，进一步体会算法的基本思想—</tspan><tspan x="1783" dy="12.3">—程序化思想，在归纳概括中培养学生的逻</tspan><tspan x="1783" dy="12.3">辑思维能力。</tspan></text></g>
<g id="d2"><rect x="1590" y="742" width="76" height="22"/><text x="1595" y="756.3">二、重点、难点</text></g>
<g id="d2a"><rect x="1684" y="721" width="163" height="22"/><text x="1689" y="735.3">重点：算法的顺序结构与选择结构。</text></g>
<g id="d2b"><rect x="1684" y="763" width="191" height="22"/><text x="1689" y="777.3">难点：用含有选择结构的流程图表示算法。</text></g>
<g id="d3"><rect x="1590" y="865" width="95" height="21"/><text x="1595" y="878.8">三、学法与教学用具</text></g>
<g id="d3a"><rect x="1704" y="806" width="200" height="71"/><text x="1709" y="820.2">学法：学生通过动手作图，用自然语言表示算<tspan x="1709" dy="12.3">法，用图表示算法。体会到用流程图表示算法</tspan><tspan x="1709" dy="12.3">，简洁、清晰、直观、便于检查，经历设计流</tspan><tspan x="1709" dy="12.3">程图表达解决问题的过程。进而学习顺序结构</tspan><tspan x="1709" dy="12.3">和选择结构表示简单的流程图。</tspan></text></g>
<g id="d3b"><rect x="1704" y="897" width="162" height="21"/><text x="1709" y="910.8">教学用具：尺规作图工具，多媒体。</text></g>
<g id="d4"><rect x="1590" y="1766" width="67" height="22"/><text x="1595" y="1780.3">四、教学思路</text></g>
<g id="e1"><rect x="1676" y="1092" width="103" height="22"/><text x="1681" y="1106.3">(一)、问题引入 揭示题</text></g>
<g id="e1a"><rect x="1799" y="940" width="184" height="21"/><text x="1804" y="953.8">例1 尺规作图，确定线段的一个5等分点。</text></g>
<g id="e1b"><rect x="1799" y="982" width="199" height="35"/><text x="1804" y="996.7">要求：同桌一人作图，一人写算法，并请学生<tspan x="1804" dy="12.3">说出答案。</tspan></text></g>
<g id="e1c"><rect x="1799" y="1038" width="156" height="21"/><text x="1804" y="1051.8">提问：用字语言写出算法有何感受?</text></g>
<g id="e1d"><rect x="1799" y="1080" width="199" height="33"/><text x="1804" y="1093.7">引导学生体验到：显得冗长，不方便、不简洁<tspan x="1804" dy="12.3">。</tspan></text></g>
<g id="e1e"><rect x="1799" y="1135" width="199" height="46"/><text x="1804" y="1149">教师说明：为了使算法的表述简洁、清晰、直<tspan x="1804" dy="12.3">观、便于检查，我们今天学习用一些通用图形</tspan><tspan x="1804" dy="12.3">符号构成一张图即流程图表示算法。</tspan></text></g>
<g id="e1f"><rect x="1799" y="1202" width="171" height="21"/><text x="1804" y="1215.8">本节要学习的是顺序结构与选择结构。</text></g>
<g id="e1g"><rect x="1799" y="1244" width="142" height="22"/><text x="1804" y="1258.3">右图即是用流程图表示的算法。</text></g>
<g id="e2"><rect x="1676" y="1634" width="103" height="22"/><text x="1681" y="1648.3">(二)、观察类比 理解题</text></g>
<g id="e2a"><rect x="1799" y="1387" width="199" height="33"/><text x="1804" y="1400.7">1、 投影介绍流程图的符号、名称及功能说明<tspan x="1804" dy="12.3">。</tspan></text></g>
<g id="h1"><rect x="2018" y="1287" width="110" height="21"/><text x="2023" y="1300.8">符号 符号名称 功能说明</text></g>
<g id="h2"><rect x="2018" y="1329" width="106" height="21"/><text x="2023" y="1342.8">终端框 算法开始与结束</text></g>
<g id="h3"><rect x="2018" y="1372" width="126" height="21"/><text x="2023" y="1385.8">处理框 算法的各种处理操作</text></g>
<g id="h4"><rect x="2018" y="1414" width="106" height="21"/><text x="2023" y="1427.8">判断框 算法的各种转移</text></g>
<g id="h5"><rect x="2018" y="1457" width="116" height="21"/><text x="2023" y="1470.8">输入输出框 输入输出操作</text></g>
<g id="h6"><rect x="2018" y="1499" width="97" height="21"/><text x="2023" y="1512.8">指向线 指向另一操作</text></g>
<g id="e2b"><rect x="1799" y="1606" width="196" height="21"/><text x="1804" y="1619.8">2、讲授顺序结构及选择结构的概念及流程图</text></g>
<g id="i1"><rect x="2013" y="1563" width="59" height="21"/><text x="2017" y="1576.8">(1)顺序结构</text></g>
<g id="i1a"><rect x="2092" y="1541" width="133" height="22"/><text x="2097" y="1555.3">依照步骤依次执行的一个算法</text></g>
<g id="i1b"><rect x="2092" y="1584" width="45" height="22"/><text x="2097" y="1598.3">流程图：</text></g>
<g id="i2"><rect x="2013" y="1648" width="59" height="21"/><text x="2017" y="1661.8">(2)选择结构</text></g>
<g id="i2a"><rect x="2092" y="1627" width="162" height="21"/><text x="2097" y="1640.8">对条件进行判断决定后面的步骤的结构</text></g>
<g id="i2b"><rect x="2092" y="1669" width="45" height="22"/><text x="2097" y="1683.3">流程图：</text></g>
<g id="e2c"><rect x="1799" y="1870" width="199" height="34"/><text x="1804" y="1884.2">3.用自然语言表示算法与用流程图表示算法的<tspan x="1804" dy="12.3">比较</tspan></text></g>
<g id="f1"><rect x="2018" y="1769" width="200" height="34"/><text x="2023" y="1783.2">(1)半径为r的圆的面积公式 当r=10时写出计<tspan x="2023" dy="12.3">算圆的面积的算法，并画出流程图。</tspan></text></g>
<g id="f1a"><rect x="2238" y="1775" width="26" height="22"/><text x="2242" y="1789.3">解：</text></g>
<g id="j1"><rect x="2284" y="1711" width="71" height="22"/><text x="2288" y="1725.3">算法(自然语言)</text></g>
<g id="j2"><rect x="2284" y="1754" width="61" height="21"/><text x="2288" y="1767.8">①把10赋与r</text></g>
<g id="j3"><rect x="2284" y="1797" width="63" height="21"/><text x="2288" y="1810.8">②用公式 求s</text></g>
<g id="j4"><rect x="2284" y="1839" width="40" height="21"/><text x="2288" y="1852.8">③输出s</text></g>
<g id="j4a"><rect x="2345" y="1839" width="36" height="21"/><text x="2349" y="1852.8">流程图</text></g>
<g id="f2"><rect x="2018" y="1971" width="200" height="34"/><text x="2023" y="1985.2">(2) 已知函数 对于每输入一个X值都得到相应<tspan x="2023" dy="12.3">的函数值，写出算法并画流程图。</tspan></text></g>
<g id="k1"><rect x="2238" y="1882" width="81" height="21"/><text x="2242" y="1895.8">算法：(语言表示)</text></g>
<g id="k2"><rect x="2238" y="1924" width="54" height="21"/><text x="2242" y="1937.8">① 输入X值</text></g>
<g id="k3"><rect x="2238" y="1966" width="199" height="35"/><text x="2243" y="1980.7">②判断X的范围，若，用函数Y=x+1求函数<tspan x="2243" dy="12.3">值;否则用Y=2-x求函数值</tspan></text></g>
<g id="k4"><rect x="2238" y="2073" width="61" height="21"/><text x="2242" y="2086.8">③输出Y的值</text></g>
<g id="l1"><rect x="2318" y="2022" width="37" height="21"/><text x="2322" y="2035.8">流程图</text></g>
<g id="l2"><rect x="2318" y="2064" width="200" height="34"/><text x="2323" y="2078.2">小结：含有数学中需要分类讨论的或与分段函<tspan x="2323" dy="12.3">数有关的问题，均要用到选择结构。</tspan></text></g>
<g id="l3"><rect x="2318" y="2119" width="200" height="34"/><text x="2323" y="2133.2">学生观察、类比、说出流程图与自然语言对比<tspan x="2323" dy="12.3">有何特点?(直观、清楚、便于检查和交流)</tspan></text></g>
<g id="e3"><rect x="1676" y="2210" width="94" height="22"/><text x="1681" y="2224.3">(三)模仿操作 经历题</text></g>
<g id="m1n"><rect x="1789" y="2174" width="195" height="21"/><text x="1794" y="2187.8">1.用流程图表示确定线段A,B的一个16等分点</text></g>
<g id="m2n"><rect x="1789" y="2248" width="71" height="21"/><text x="1794" y="2261.8">2.分析讲解例2</text></g>
<g id="m2a"><rect x="1880" y="2222" width="36" height="22"/><text x="1884" y="2236.3">分析：</text></g>
<g id="m2a1"><rect x="1936" y="2216" width="200" height="34"/><text x="1941" y="2230.2">思考：有多少个选择结构?相应的流程图应如<tspan x="1941" dy="12.3">何表示?</tspan></text></g>
<g id="m2b"><rect x="1880" y="2270" width="45" height="21"/><text x="1884" y="2283.8">流程图：</text></g>
<g id="e4"><rect x="1676" y="2335" width="94" height="21"/><text x="1681" y="2348.8">(四)归纳小结 巩固题</text></g>
<g id="n1"><rect x="1789" y="2313" width="173" height="21"/><text x="1794" y="2326.8">1.顺序结构和选择结构的模式是怎样的?</text></g>
<g id="n2"><rect x="1789" y="2356" width="121" height="21"/><text x="1794" y="2369.8">2.怎样用流程图表示算法。</text></g>
<g id="e5"><rect x="1676" y="2398" width="68" height="21"/><text x="1681" y="2411.8">(五)练习P99 2</text></g>
<g id="e6"><rect x="1676" y="2441" width="68" height="21"/><text x="1681" y="2454.8">(六)作业P99 1</text></g>

<g id="g1"><rect x="1590" y="2489" width="56" height="21"/><text x="1595" y="2502.8">一、课题：</text></g>
<g id="g1a"><rect x="1665" y="2483" width="201" height="34"/><text x="1670" y="2497.2">人教版全日制普通高级中学教科书数学第一册<tspan x="1670" dy="12.3">(上)《2.7对数》</tspan></text></g>
<g id="g2"><rect x="1590" y="2637" width="123" height="22"/><text x="1595" y="2651.3">二、指导思想与理论依据：</text></g>
<g id="g2a"><rect x="1733" y="2538" width="200" height="218"/><text x="1738" y="2551.9">《数学课程标准》指出：高中数学课程应讲清<tspan x="1738" dy="12.3">一些基本内容的实际背景和应用价值，开展"</tspan><tspan x="1738" dy="12.3">数学建模"的学习活动，把数学的应用自然地</tspan><tspan x="1738" dy="12.3">融合在平常的教学中。任何一个数学概念的引</tspan><tspan x="1738" dy="12.3">入，总有它的现实或数学理论发展的需要，都</tspan><tspan x="1738" dy="12.3">应强调它的现实背景、数学理论发展背景或数</tspan><tspan x="1738" dy="12.3">学发展历史上的背景，这样才能使教学内容显</tspan><tspan x="1738" dy="12.3">得自然和亲切，让学生感到知识的发展水到渠</tspan><tspan x="1738" dy="12.3">成而不是强加于人，从而有利于学生认识数学</tspan><tspan x="1738" dy="12.3">内容的实际背景和应用的价值。在教学设计时</tspan><tspan x="1738" dy="12.3">，既要关注学生在数学情感态度和科学价值观</tspan><tspan x="1738" dy="12.3">方面的发展，也要帮助学生理解和掌握数学基</tspan><tspan x="1738" dy="12.3">础知识和基本技能，发展能力。在课程实施中</tspan><tspan x="1738" dy="12.3">，应结合教学内容介绍一些对数学发展起重大</tspan><tspan x="1738" dy="12.3">作用的历史事件和人物，用以反映数学在人类</tspan><tspan x="1738" dy="12.3">社会进步、人类文化建设中的作用，同时反映</tspan><tspan x="1738" dy="12.3">社会发展对数学发展的促进作用。</tspan></text></g>
<g id="g3"><rect x="1590" y="2814" width="76" height="22"/><text x="1595" y="2828.3">三、教材分析：</text></g>
<g id="g3a"><rect x="1684" y="2777" width="201" height="95"/><text x="1689" y="2790.9">本节内容主要学习对数的概念及其对数式与指<tspan x="1689" dy="12.3">数式的互化。它属于函数领域的知识，而对数</tspan><tspan x="1689" dy="12.3">的概念是对数函数部分教学中的核心概念之一</tspan><tspan x="1689" dy="12.3">，而函数的思想方法贯穿在高中数学教学的始</tspan><tspan x="1689" dy="12.3">终。通过对数的学习，可以解决数学中知道底</tspan><tspan x="1689" dy="12.3">数和幂值求指数的问题，以及对数函数的相关</tspan><tspan x="1689" dy="12.3">问题。</tspan></text></g>
<g id="g4"><rect x="1590" y="2919" width="76" height="22"/><text x="1595" y="2933.3">四、学情分析：</text></g>
<g id="g4a"><rect x="1684" y="2894" width="201" height="70"/><text x="1689" y="2907.7">在ab=N(a&gt;0，a≠1)中，知道底数和指数可<tspan x="1689" dy="12.3">以求幂值，那么知道底数和幂值如何求指数</tspan><tspan x="1689" dy="12.3">，从学生认知的角度自然就产生了这样的需要</tspan><tspan x="1689" dy="12.3">。因此，在前面学习指数的基础上学习对数的</tspan><tspan x="1689" dy="12.3">概念是水到渠成的事。</tspan></text></g>
<g id="g5"><rect x="1590" y="3093" width="76" height="21"/><text x="1595" y="3106.8">五、教学目标：</text></g>
<g id="o1"><rect x="1684" y="3008" width="83" height="21"/><text x="1689" y="3021.8">(一)教学知识点：</text></g>
<g id="o1a"><rect x="1786" y="2986" width="74" height="21"/><text x="1791" y="2999.8">1.对数的概念。</text></g>
<g id="o1b"><rect x="1786" y="3029" width="121" height="21"/><text x="1791" y="3042.8">2.对数式与指数式的互化。</text></g>
<g id="o2"><rect x="1684" y="3093" width="73" height="21"/><text x="1689" y="3106.8">(二)能力目标：</text></g>
<g id="o2a"><rect x="1776" y="3071" width="93" height="22"/><text x="1781" y="3085.3">1.理解对数的概念。</text></g>
<g id="o2b"><rect x="1776" y="3114" width="160" height="21"/><text x="1781" y="3127.8">2.能够进行对数式与指数式的互化。</text></g>
<g id="o3"><rect x="1684" y="3178" width="92" height="21"/><text x="1689" y="3191.8">(三)德育渗透目标：</text></g>
<g id="o3a"><rect x="1795" y="3156" width="180" height="22"/><text x="1800" y="3170.3">1.认识事物之间的相互联系与相互转化。</text></g>
<g id="o3b"><rect x="1795" y="3198" width="112" height="22"/><text x="1800" y="3212.3">2.用联系的观点看问题。</text></g>
<g id="g6"><rect x="1590" y="3241" width="104" height="21"/><text x="1595" y="3254.8">六、教学重点与难点：</text></g>
<g id="g6a"><rect x="1714" y="3241" width="190" height="21"/><text x="1719" y="3254.8">重点是对数定义，难点是对数概念的理解。</text></g>
<g id="g7"><rect x="1590" y="3308" width="76" height="22"/><text x="1595" y="3322.3">七、教学方法：</text></g>
<g id="g7a"><rect x="1684" y="3308" width="124" height="22"/><text x="1689" y="3322.3">讲练结合法八、教学流程：</text></g>
<g id="g7b"><rect x="1828" y="3284" width="199" height="70"/><text x="1833" y="3297.7">问题情景(复习引入)——实例分析、形成概念<tspan x="1833" dy="12.3">(导入新课)——深刻认识概念(对数式与指数</tspan><tspan x="1833" dy="12.3">式的互化)——变式分析、深化认识(对数的性</tspan><tspan x="1833" dy="12.3">质、对数恒等式，介绍自然对数及常用对数)</tspan><tspan x="1833" dy="12.3">——练习小结、形成反思(例题，小结)</tspan></text></g>
<g id="g8"><rect x="1590" y="3520" width="76" height="21"/><text x="1595" y="3533.8">八、教学反思：</text></g>
<g id="g8a"><rect x="1684" y="3375" width="201" height="182"/><text x="1689" y="3389.4">对本节内容在进行教学设计之前，本人反复阅<tspan x="1689" dy="12.3">读了课程标准和教材，教材内容的处理收到了</tspan><tspan x="1689" dy="12.3">一定的预期效果，尤其是练习的处理，充分发</tspan><tspan x="1689" dy="12.3">挥了学生的主体作用，也提高了学生主体的合</tspan><tspan x="1689" dy="12.3">作意识，达到了设计中所预想的目标。然而还</tspan><tspan x="1689" dy="12.3">有一些缺憾：对本节内容，难度不高，本人认</tspan><tspan x="1689" dy="12.3">为，教师的干预(讲解)还是太多，在以后的教</tspan><tspan x="1689" dy="12.3">学中，对于一些较简单的内容，应放手让学生</tspan><tspan x="1689" dy="12.3">多一些探究与合作。随着教育改革的深化，教</tspan><tspan x="1689" dy="12.3">学理念、教学模式、教学内容等教学因素，都</tspan><tspan x="1689" dy="12.3">在不断更新，作为数学教师要更新教学观念，</tspan><tspan x="1689" dy="12.3">从学生的全面发展来设计课堂教学，关注学生</tspan><tspan x="1689" dy="12.3">个性和潜能的发展，使教学过程更加切合《课</tspan><tspan x="1689" dy="12.3">程标准》的要求。</tspan></text></g>
<g id="g8b"><rect x="1684" y="3578" width="201" height="33"/><text x="1689" y="3591.7">对于本教学设计，时间仓促，不足之处在所难<tspan x="1689" dy="12.3">免，期待与各位同仁交流。</tspan></text></g>

<g id="w1"><rect x="1645" y="3632" width="149" height="22"/><text x="1650" y="3646.3">★ 高三数学教学工作计划范文5篇</text></g>
<g id="w2"><rect x="1645" y="3674.5" width="136" height="22"/><text x="1650" y="3688.8">★ 高二数学教学计划范文10篇</text></g>
<g id="w3"><rect x="1645" y="3717" width="149" height="22"/><text x="1650" y="3731.3">★ 高一数学课堂教学设计案例5篇</text></g>
<g id="w4"><rect x="1645" y="3760" width="140" height="22"/><text x="1650" y="3774.3">★ 高中数学必修4优秀教案五篇</text></g>
<g id="w5"><rect x="1645" y="3802" width="157" height="22"/><text x="1650" y="3816.3">★ 2021最新高一数学教案模板范文</text></g>
<g id="w6"><rect x="1645" y="3844.5" width="140" height="22"/><text x="1650" y="3858.8">★ 高中数学必修5优秀教案五篇</text></g>
<g id="w7"><rect x="1645" y="3887" width="136" height="22"/><text x="1650" y="3901.3">★ 高二数学教学计划范文10篇</text></g>
<g id="w8"><rect x="1645" y="3930" width="155" height="22"/><text x="1650" y="3944.3">★ 高三数学工作计划范文最新10篇</text></g>
<g id="w9"><rect x="1645" y="3972" width="172" height="22"/><text x="1650" y="3986.3">★ 高一级数学老师的教学经验总结范文</text></g>
<g id="w10"><rect x="1645" y="4014.5" width="157" height="22"/><text x="1650" y="4028.8">★ 2021高一数学教案板书设计范文</text></g>
</g>
</g>
</svg>
